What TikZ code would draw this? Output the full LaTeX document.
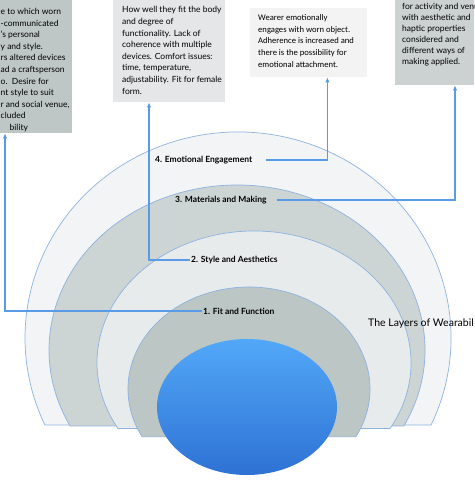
\documentclass[tikz,border=0pt]{standalone}
\usepackage{fontspec}
\setmainfont{Lato}
\newfontfamily\notefont{Carlito}
\usetikzlibrary{arrows.meta, positioning}
\definecolor{colLayA}{HTML}{F3F4F5}
\definecolor{colLayB}{HTML}{CDD4D4}
\definecolor{colLayC}{HTML}{E8EBEC}
\definecolor{colLayD}{HTML}{BCC6C4}
\definecolor{colEdge}{HTML}{8DB3E2}
\definecolor{colLink}{HTML}{5A9BE8}
\definecolor{colNoteA}{HTML}{BFC7C6}
\definecolor{colNoteB}{HTML}{E4E6E7}
\definecolor{colNoteC}{HTML}{F3F3F3}
\definecolor{colNoteD}{HTML}{CCD2D2}
\definecolor{colCoreTop}{HTML}{52A8F8}
\definecolor{colCoreBot}{HTML}{2E72D4}
\tikzset{
  layer/.style={draw=colEdge, line width=0.7pt},
  notebox/.style={draw=none, inner sep=0pt, anchor=north west},
  notetext/.style={align=left, anchor=north west, inner sep=0pt,
    font=\fontsize{8.5}{11.6}\selectfont},
  layerlabel/.style={font=\fontsize{8.5}{10}\selectfont\bfseries, inner sep=1pt},
  conn/.style={draw=colLink, line width=1.5pt, -{Latex[length=5pt,width=4.5pt]}},
}

\begin{document}
\begin{tikzpicture}[x=1pt, y=1pt]
		\useasboundingbox (0,0) rectangle (474,-487);
		\clip (0,0) rectangle (474,-487);
		% layers, outer to inner
		\filldraw[layer, fill=colLayA] (238,-338) ++(-25:213 and 206)
			arc[start angle=-25, end angle=205, x radius=213, y radius=206] -- cycle;
		\filldraw[layer, fill=colLayB] (237,-350) ++(-27.4:188 and 165)
			arc[start angle=-27.4, end angle=207.4, x radius=188, y radius=165] -- cycle;
		\filldraw[layer, fill=colLayC] (254,-362.7) ++(-30:157 and 131.7)
			arc[start angle=-30, end angle=210, x radius=157, y radius=131.7] -- cycle;
		\filldraw[layer, fill=colLayD] (249,-389) ++(-28:121 and 102)
			arc[start angle=-28, end angle=208, x radius=121, y radius=102] -- cycle;
		\shade[top color=colCoreTop, bottom color=colCoreBot] (247,-407) ellipse [x radius=90, y radius=68];

		% note boxes
		\node[notebox, fill=colNoteA, minimum width=80pt, minimum height=138pt] (noteA) at (-8,5) {};
		\node[notebox, fill=colNoteB, minimum width=112pt, minimum height=104pt] (noteB) at (113,2) {};
		\node[notebox, fill=colNoteC, minimum width=117pt, minimum height=69pt] (noteC) at (250,-8) {};
		\node[notebox, fill=colNoteD, minimum width=90pt, minimum height=90pt] (noteD) at (395,5) {};

		\node[notetext] (textA) at (0.5,-8) {e to which worn\\ -communicated\\ ’s personal\\ y and style.\\
			rs altered devices\\ ad a craftsperson\\ o.\ \ Desire for\\ nt style to suit\\
			r and social venue,\\ cluded\\ \hspace{9pt}bility};
		\node[notetext] (textB) at (122,-6.5) {How well they fit the body\\ and degree of\\
			functionality. Lack of\\ coherence with multiple\\ devices. Comfort issues:\\
			time, temperature,\\ adjustability. Fit for female\\ form.};
		\node[notetext, font=\notefont\fontsize{8.6}{11.6}\selectfont] (textC) at (258,-14.5)
			{Wearer emotionally\\ engages with worn object.\\ Adherence is increased and\\
			there is the possibility for\\ emotional attachment.};
		\node[notetext, font=\fontsize{8.5}{11}\selectfont] (textD) at (402,-3)
			{for activity and venue\\ with aesthetic and\\ haptic properties\\
			considered and\\ different ways of\\ making applied.};

		% layer labels
		\node[layerlabel, right] (labEmo) at (154,-160) {4. Emotional Engagement};
		\node[layerlabel, right] (labMat) at (174,-200) {3. Materials and Making};
		\node[layerlabel, right] (labStyle) at (190,-260) {2. Style and Aesthetics};
		\node[layerlabel, right] (labFit) at (202,-311) {1. Fit and Function};
		\node[right, inner sep=0pt, font=\fontsize{10.5}{12}\selectfont] (title) at (368,-324)
			{The Layers of Wearabil};

		% connectors
		\draw[conn] (labFit.west) -| ([xshift=13pt]noteA.south west);
		\draw[conn] (labStyle.west) -| ([xshift=36pt]noteB.south west);
		\draw[conn] ([xshift=13pt]labEmo.east) -| ([xshift=-40pt]noteC.south east);
		\draw[conn] ([xshift=9pt]labMat.east) -| ([xshift=60pt]noteD.south west);
\end{tikzpicture}
\end{document}
